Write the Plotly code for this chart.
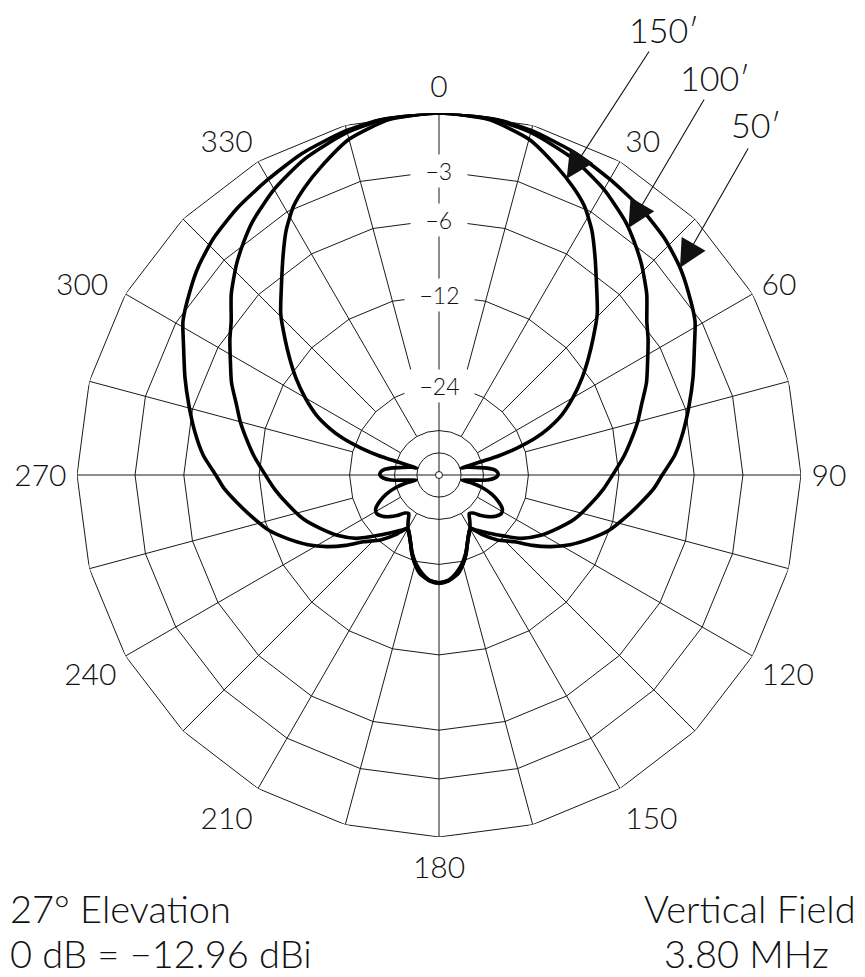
import numpy as np
import plotly.graph_objects as go

# ---------------- data ----------------
ANGLE_TICKS = [0, 30, 60, 90, 120, 150, 180, 210, 240, 270, 300, 330]
ANGLE_TEXT = ["0", "30", "60", "90", "120", "150", "180", "210", "240",
              "270", "300\u00a0", "330"]
RADIAL_TICKS = [-3, -6, -12, -24]
GRID_LEVELS = [0, -3, -6, -12, -24, -36, -48]

THETA_50 = [0, 8, 15, 23, 30, 37, 43.6, 49, 53.7, 59, 63, 69, 74.4, 80, 85.2, 90, 93.5, 98, 103, 108,
            112.6, 118, 122.6, 127, 131.4, 138, 144, 147, 149, 151, 156, 161, 165, 169, 175, 180,
            185, 191, 195, 199, 204, 209, 211, 213, 216, 222, 228.6, 233, 237.4, 242, 247.4, 252,
            257, 262, 266.5, 270, 274.8, 280, 285.6, 291, 297, 301, 306.3, 311, 316.4, 323, 330,
            337, 345, 352, 360]
DB_50 = [0, -0.05, -0.25, -0.6, -1.0, -1.35, -1.75, -2.2, -2.7, -3.3, -4.0, -4.9, -5.7, -6.5, -7.3,
         -8.3, -8.9, -9.9, -11.0, -12.1, -13.5, -15.3, -17.2, -19.4, -21.9, -24.4, -27.3, -29.2,
         -30.2, -30.0, -28.0, -25.2, -23.4, -22.0, -21.0, -20.7,
         -21.0, -22.0, -23.4, -25.2, -28.0, -30.0, -30.2, -29.2, -27.3, -24.4, -21.9, -19.4, -17.2,
         -15.3, -13.5, -12.1, -11.0, -9.9, -8.9, -8.3, -7.3, -6.5, -5.7, -4.9, -4.0, -3.3, -2.7,
         -2.2, -1.75, -1.35, -1.0, -0.6, -0.25, -0.05, 0]

THETA_100 = [0, 8, 15, 23, 30, 36.3, 40, 44, 49, 53.6, 57, 60.7, 66, 70.9, 75, 79.2, 84, 88.9, 95,
             101.2, 108, 114, 121, 127.5, 135.4, 142.3, 147, 149, 151, 156, 161, 165, 169, 175, 180,
             185, 191, 195, 199, 204, 209, 211, 213, 217.7, 224.6, 232.5, 239, 246, 252, 258.8, 265,
             271.1, 276, 280.8, 285, 289.1, 294, 299.3, 303, 306.4, 311, 316, 320, 323.7, 330, 337,
             345, 352, 360]
DB_100 = [0, -0.08, -0.35, -0.9, -1.6, -2.4, -3.0, -3.7, -4.7, -5.8, -6.4, -7.1, -8.0, -9.0, -9.7,
          -10.5, -11.4, -12.4, -13.5, -14.7, -16.0, -17.5, -19.3, -21.4, -25.0, -27.8, -29.4, -30.2,
          -30.0, -28.0, -25.3, -23.5, -22.1, -21.1, -20.8,
          -21.1, -22.1, -23.5, -25.3, -28.0, -30.0, -30.2, -29.4, -27.8, -25.0, -21.4, -19.3, -17.5,
          -16.0, -14.7, -13.5, -12.4, -11.4, -10.5, -9.7, -9.0, -8.0, -7.1, -6.4, -5.8, -4.7, -3.7,
          -3.0, -2.4, -1.6, -0.9, -0.35, -0.08, 0]

THETA_150 = [0, 8, 15, 21, 25, 28.4, 32, 35.3, 40.2, 44.5, 48.5, 52, 55.9, 60, 63.9, 67, 69.1, 71,
             72.2, 73, 74, 76, 78.5, 81, 84, 87, 90, 93, 96, 98.3, 101, 102.5, 104, 106, 110, 114,
             118, 121.5, 126, 130.2, 134, 138, 142, 146, 150.6, 155.2, 161, 166, 170, 175, 180,
             185, 190, 194, 199, 204.8, 209.4, 214, 218, 222, 226, 229.8, 234, 238.5, 242, 246, 250,
             254, 256, 257.5, 259, 261.7, 264, 267, 270, 273, 276, 279, 281.5, 284, 286, 287, 287.8,
             289, 290.9, 293, 296.1, 300, 304.1, 308, 311.5, 315.5, 319.8, 324.7, 328, 331.6, 335,
             339, 345, 352, 360]
DB_150 = [0, -0.15, -0.7, -1.6, -2.25, -2.9, -3.9, -5.05, -6.75, -8.1, -9.7, -11.1, -12.7, -14.6,
          -16.7, -19.2, -21.6, -25.5, -30.0, -47.0, -44.0, -41.5, -39.0, -35.5, -32.5, -31.3, -31.1,
          -32.0, -34.5, -40.0, -45.0, -47.0, -40.0, -36.0, -32.0, -29.5, -27.8, -27.4, -28.2, -29.6,
          -31.3, -33.6, -34.3, -32.3, -30.0, -28.3, -25.4, -23.4, -22.2, -21.1, -20.8,
          -21.1, -22.2, -23.4, -25.4, -28.3, -30.0, -32.3, -34.3, -33.6, -31.3, -29.6, -28.2, -27.4,
          -27.8, -29.5, -32.0, -36.0, -40.0, -47.0, -45.0, -40.0, -34.5, -32.0, -31.1, -31.3, -32.5,
          -35.5, -39.0, -41.5, -44.0, -47.0, -30.0, -25.5, -21.6, -19.2, -16.7, -14.6, -12.7, -11.1,
          -9.7, -8.1, -6.75, -5.05, -3.9, -2.9, -2.25, -1.6, -0.7, -0.15, 0]

CURVE_NAMES = ["50′", "100′", "150′"]
ARROW_THETA = [49.3, 37.5, 23.3]

# ---------------- layout geometry ----------------
OFF = 8                      # page body margin of the browser
W, H = 865 - OFF, 977 - OFF
CX, CY, R = 439 - OFF, 475 - OFF, 362
FONT = "Lato"
TXT = "#111"


def to_r(db):
    """ARRL log-periodic scale: radius shrinks by 0.89 every 2 dB."""
    return 0.89 ** (-np.asarray(db, dtype=float) / 2.0)


def to_fig_px(theta, db):
    r = float(to_r(db)) * R
    t = np.radians(theta)
    return CX + r * np.sin(t), CY - r * np.cos(t)


def to_paper(theta, db):
    x, y = to_fig_px(theta, db)
    return x / W, 1 - y / H


def px(x, y):
    """reference-page pixel -> paper coords"""
    return (x - OFF) / W, 1 - (y - OFF) / H


fig = go.Figure()

# grid circles (polygons with vertices on the 15-degree spokes)
circ_theta = list(range(0, 361, 15))
for lvl in GRID_LEVELS:
    fig.add_trace(go.Scatterpolar(r=[float(to_r(lvl))] * len(circ_theta), theta=circ_theta,
                                  mode="lines", line=dict(color="#1a1a1a", width=1),
                                  hoverinfo="skip"))

# spokes
sr, st = [], []
for a in range(0, 360, 15):
    if a % 90 == 0:
        r0 = 3.5 / R
    elif a % 30 == 0:
        r0 = float(to_r(-36))
    else:
        r0 = float(to_r(-24))
    sr += [r0, 1.0, None]
    st += [a, a, None]
fig.add_trace(go.Scatterpolar(r=sr, theta=st, mode="lines",
                              line=dict(color="#1a1a1a", width=1), hoverinfo="skip"))

# center marker
fig.add_trace(go.Scatterpolar(r=[0], theta=[0], mode="markers",
                              marker=dict(symbol="circle-open", size=7, color="#1a1a1a",
                                          line=dict(width=1)), hoverinfo="skip"))

# pattern curves
for th, db, name in [(THETA_50, DB_50, CURVE_NAMES[0]), (THETA_100, DB_100, CURVE_NAMES[1]),
                     (THETA_150, DB_150, CURVE_NAMES[2])]:
    fig.add_trace(go.Scatterpolar(r=to_r(db), theta=th, mode="lines", name=name,
                                  line=dict(color="black", width=3.6, shape="spline",
                                            smoothing=0.6)))

ann = []
# radial labels on the 0-degree axis
for d in RADIAL_TICKS:
    x, y = to_paper(0, d)
    ann.append(dict(x=x, y=y, xref="paper", yref="paper", xanchor="center", yanchor="middle",
                    text="\u00a0\u00a0−%d\u00a0\u00a0" % abs(d),
                    showarrow=False, bgcolor="white", borderpad=2,
                    font=dict(family=FONT, size=23, color=TXT, weight=300)))

# arrows to the curves and their labels
label_pos = [(756, 124), (715, 77), (664, 30)]
tails = [(749, 147), (705, 98), (650, 50)]
curves = [(THETA_50, DB_50), (THETA_100, DB_100), (THETA_150, DB_150)]
for (th, db), at, name, lp, tl in zip(curves, ARROW_THETA, CURVE_NAMES, label_pos, tails):
    dval = float(np.interp(at, th, db))
    fx, fy = to_fig_px(at, dval)
    ann.append(dict(x=fx / W, y=1 - fy / H, xref="paper", yref="paper", text="",
                    showarrow=True, ax=(tl[0] - OFF) - fx, ay=(tl[1] - OFF) - fy,
                    arrowhead=2, arrowsize=5, arrowwidth=1.1, arrowcolor="#111"))
    lx, ly = px(*lp)
    ann.append(dict(x=lx, y=ly, xref="paper", yref="paper", xanchor="center", yanchor="middle",
                    text=name, showarrow=False,
                    font=dict(family=FONT, size=34, color=TXT, weight=300)))

# footer texts
foot = dict(family=FONT, size=38, color=TXT, weight=300)
for txt, (x, y), anc in [("27° Elevation", (8, 908), "left"),
                         ("0 dB = −12.96 dBi", (8, 953), "left"),
                         ("Vertical Field", (858, 908), "right"),
                         ("3.80 MHz", (746, 953), "center")]:
    xx, yy = px(x, y)
    ann.append(dict(x=xx, y=yy, xref="paper", yref="paper", xanchor=anc, yanchor="middle",
                    text=txt, showarrow=False, font=foot))

fig.update_layout(
    width=W, height=H, margin=dict(l=0, r=0, t=0, b=0, pad=0, autoexpand=False),
    paper_bgcolor="white", plot_bgcolor="white", showlegend=False,
    polar=dict(
        domain=dict(x=[(CX - R) / W, (CX + R) / W], y=[(H - CY - R) / H, (H - CY + R) / H]),
        bgcolor="white",
        angularaxis=dict(rotation=90, direction="clockwise", showgrid=False, showline=False,
                         tickvals=ANGLE_TICKS, ticktext=ANGLE_TEXT,
                         ticks="outside", ticklen=4, tickcolor="rgba(0,0,0,0)",
                         tickfont=dict(family=FONT, size=30, color=TXT, weight=300)),
        radialaxis=dict(range=[0, 1], visible=False),
    ),
    annotations=ann,
)

fig.write_html("out.html")
